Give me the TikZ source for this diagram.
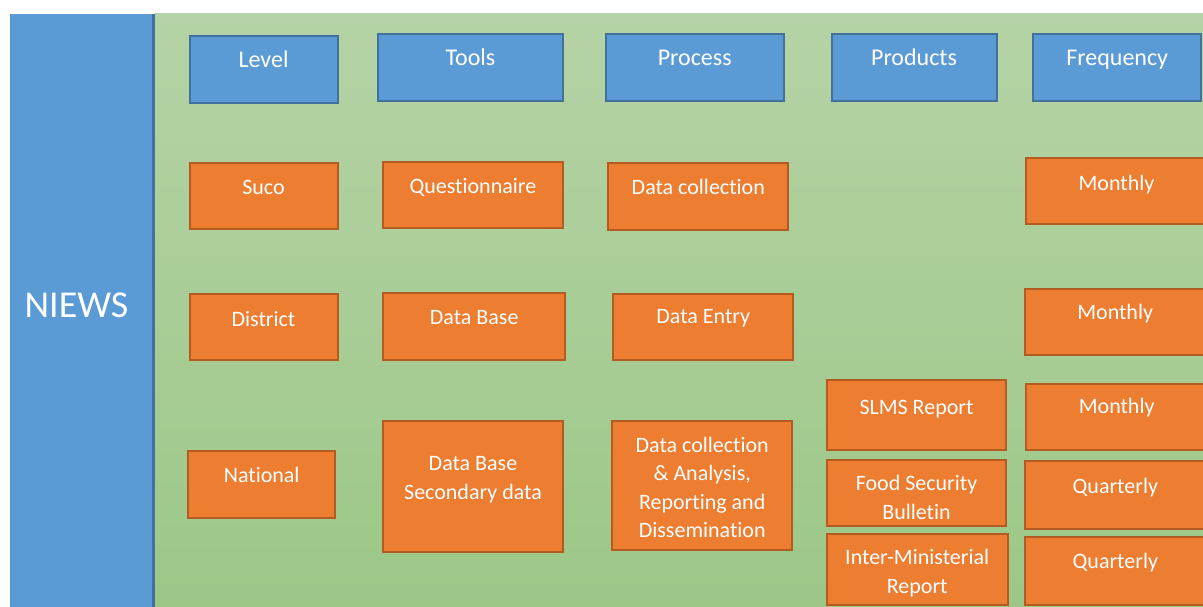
\documentclass[tikz,border=0pt]{standalone}
\usepackage{fontspec}
\setmainfont{Carlito}[Ligatures={NoCommon}]
\usepackage{xcolor}

\definecolor{niewsblue}{HTML}{5B9BD5}
\definecolor{niewsline}{HTML}{41719C}
\definecolor{boxorange}{HTML}{ED7D31}
\definecolor{orangeline}{HTML}{B35B20}
\definecolor{greentop}{HTML}{B5D3A6}
\definecolor{greenbottom}{HTML}{9CC787}

\begin{document}
\begin{tikzpicture}[x=1pt, y=-1pt,
    hdrbox/.style={draw=niewsline, fill=niewsblue, line width=2pt, inner sep=0pt},
    itembox/.style={draw=orangeline, fill=boxorange, line width=2pt, inner sep=0pt},
    hdrlbl/.style={text=white, inner sep=0pt, text height=15.5pt, text depth=0pt, font=\fontsize{24}{29}\selectfont},
    itemlbl/.style={text=white, inner sep=0pt, text height=14pt, text depth=0pt, font=\fontsize{22}{28.5}\selectfont},
    itemlines/.style={text=white, inner sep=0pt, align=center, font=\fontsize{22}{28.5}\selectfont}]
    \useasboundingbox (0,0) rectangle (1203,607);
    \clip (0,0) rectangle (1203,607);

    % background panels
    \fill[white] (0,0) rectangle (1203,607);
    \fill[niewsblue] (10,14) rectangle (153,607);
    \draw[niewsline, line width=2.5pt] (153.7,14) -- (153.7,607);
    \shade[top color=greentop, bottom color=greenbottom] (155,14) rectangle (1203,607);
    \node[text=white, inner sep=0pt, font=\fontsize{38}{44}\selectfont] (niews) at (76.5,305) {NIEWS};

    % column headers
    \node[hdrbox, minimum width=148pt, minimum height=67pt] (level) at (263.5,69.2) {};
    \node[hdrlbl] (level-t) at (263.5,60) {Level};
    \node[hdrbox, minimum width=185pt, minimum height=67pt] (tools) at (470.5,67.4) {};
    \node[hdrlbl] (tools-t) at (470.5,57.7) {Tools};
    \node[hdrbox, minimum width=178pt, minimum height=67pt] (process) at (694.7,67.4) {};
    \node[hdrlbl] (process-t) at (694.7,57.7) {Process};
    \node[hdrbox, minimum width=165pt, minimum height=67.5pt] (products) at (914,67.5) {};
    \node[hdrlbl] (products-t) at (914,57.3) {Products};
    \node[hdrbox, minimum width=167.5pt, minimum height=67.5pt] (frequency) at (1117.2,67.5) {};
    \node[hdrlbl] (frequency-t) at (1117.2,57.3) {Frequency};

    % level column
    \node[itembox, minimum width=148pt, minimum height=66pt] (suco) at (263.5,195.9) {};
    \node[itemlbl] (suco-t) at (263.5,187) {Suco};
    \node[itembox, minimum width=148pt, minimum height=66pt] (district) at (263.5,327.2) {};
    \node[itemlbl] (district-t) at (263.5,319) {District};
    \node[itembox, minimum width=146.5pt, minimum height=67pt] (national) at (261.7,484.5) {};
    \node[itemlbl] (national-t) at (261.7,475) {National};

    % tools column
    \node[itembox, minimum width=180pt, minimum height=66.5pt] (quest) at (472.9,195) {};
    \node[itemlbl] (quest-t) at (472.9,186.7) {Questionnaire};
    \node[itembox, minimum width=182pt, minimum height=66.5pt] (dbase) at (474.2,326.5) {};
    \node[itemlbl] (dbase-t) at (474.2,317.7) {Data Base};
    \node[itembox, minimum width=180pt, minimum height=131pt] (dbsec) at (473,486.7) {};
    \node[itemlines] (dbsec-t) at (473,479.5) {Data Base\\Secondary data};

    % process column
    \node[itembox, minimum width=180pt, minimum height=67pt] (collect) at (698.3,196.7) {};
    \node[itemlbl] (collect-t) at (698.3,187.7) {Data collection};
    \node[itembox, minimum width=180pt, minimum height=66pt] (entry) at (703.3,326.7) {};
    \node[itemlbl] (entry-t) at (703.3,316.7) {Data Entry};
    \node[itembox, minimum width=179.5pt, minimum height=128.5pt] (analysis) at (702.2,485.5) {};
    \node[itemlines] (analysis-t) at (702.2,487.5) {Data collection\\\& Analysis,\\Reporting and\\Dissemination};

    % products column
    \node[itembox, minimum width=179.5pt, minimum height=69.5pt] (slms) at (916.5,414.9) {};
    \node[itemlbl] (slms-t) at (916.5,407.3) {SLMS Report};
    \node[itembox, minimum width=179.5pt, minimum height=66.5pt] (bulletin) at (916.5,493.2) {};
    \node[itemlines] (bulletin-t) at (916.5,497.2) {Food Security\\Bulletin};
    \node[itembox, minimum width=181pt, minimum height=70.5pt] (ministry) at (917.2,569.5) {};
    \node[itemlines] (ministry-t) at (917.2,573.2) {Inter-Ministerial\\Report};

    % frequency column, running past the right edge
    \node[itembox, minimum width=180pt, minimum height=66.5pt] (freq-a) at (1116.2,191) {};
    \node[itemlbl] (freq-a-t) at (1116.5,183.3) {Monthly};
    \node[itembox, minimum width=181pt, minimum height=66.5pt] (freq-b) at (1115.5,321.9) {};
    \node[itemlbl] (freq-b-t) at (1115.2,312.3) {Monthly};
    \node[itembox, minimum width=180pt, minimum height=66pt] (freq-c) at (1116.2,416.7) {};
    \node[itemlbl] (freq-c-t) at (1116.7,406.7) {Monthly};
    \node[itembox, minimum width=181pt, minimum height=67.5pt] (freq-d) at (1115.5,495.2) {};
    \node[itemlbl] (freq-d-t) at (1115.3,486) {Quarterly};
    \node[itembox, minimum width=181pt, minimum height=67.5pt] (freq-e) at (1115.5,570.9) {};
    \node[itemlbl] (freq-e-t) at (1115.3,561.7) {Quarterly};
\end{tikzpicture}
\end{document}
